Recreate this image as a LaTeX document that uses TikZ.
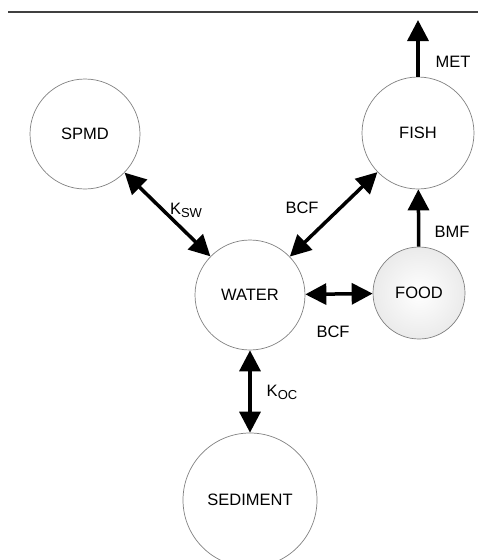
\documentclass[tikz,border=0pt]{standalone}
\usepackage{fontspec}
\setmainfont{Liberation Sans}
\usetikzlibrary{arrows.meta}
\tikzset{
  comp/.style={circle, draw=black!50, line width=0.7pt, inner sep=0pt, font=\fontsize{16.5}{16.5}\selectfont},
  flow/.style={line width=3.5pt, -{Triangle[length=21pt,width=21pt]}},
  bflow/.style={line width=3.5pt, {Triangle[length=21pt,width=21pt]}-{Triangle[length=21pt,width=21pt]}},
  lbl/.style={font=\fontsize{16.5}{16.5}\selectfont, inner sep=0pt}
}
\newcommand{\subtx}[1]{\raisebox{-0.35ex}{\fontsize{13}{13}\selectfont #1}}
\begin{document}
\begin{tikzpicture}[x=1pt,y=-1pt]
\useasboundingbox (0,0) rectangle (478,560);
\draw[line width=1.5pt, black!75] (8,12) -- (478,12);
\node[comp, minimum size=110pt] (spmd) at (85,134) {SPMD};
\node[comp, minimum size=112pt] (fish) at (418,133) {FISH};
\node[comp, minimum size=110pt] (water) at (250,295) {WATER};
\node[comp, minimum size=92pt, inner color=white, outer color=black!8] (food) at (419,293) {FOOD};
\node[comp, minimum size=134pt] (sed) at (250,500) {SEDIMENT};
\coordinate (top) at (418,20);
\draw[flow] (fish) -- (top);
\draw[flow] (food) -- (fish);
\draw[bflow] (spmd) -- (water);
\draw[bflow] (fish) -- (water);
\draw[bflow] (food) -- (water);
\draw[bflow] (water) -- (sed);
\node[lbl] (met) at (453,62) {MET};
\node[lbl] (bmf) at (452,232) {BMF};
\node[lbl] (bcf1) at (302,208) {BCF};
\node[lbl] (bcf2) at (333,332) {BCF};
\node[lbl] (ksw) at (186,210) {K\subtx{SW}};
\node[lbl] (koc) at (282,392) {K\subtx{OC}};
\end{tikzpicture}
\end{document}
